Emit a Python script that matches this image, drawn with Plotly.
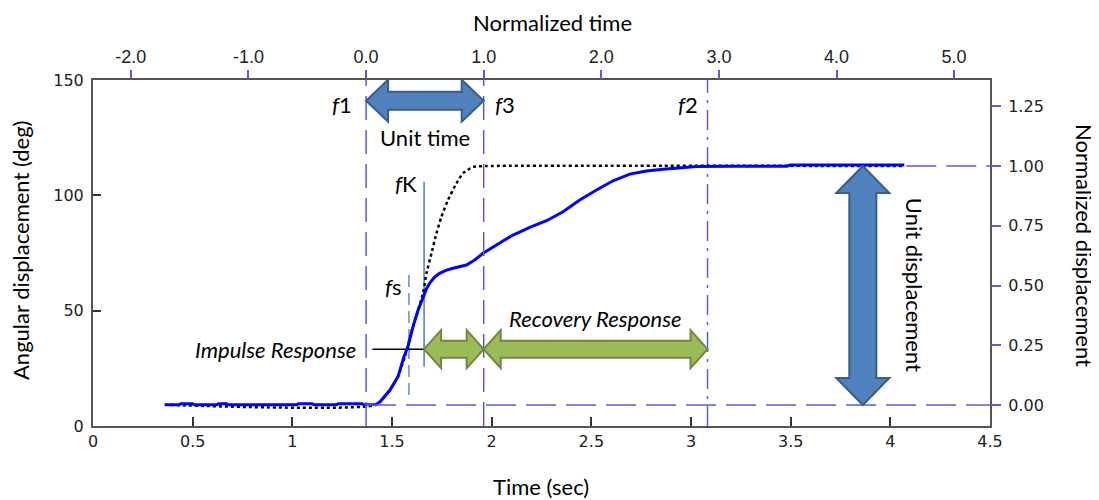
import plotly.graph_objects as go

# ---------------- data ----------------
blue_t = [0.36, 0.43, 0.44, 0.50, 0.51, 0.62, 0.63, 0.67, 0.68, 1.02,
          1.03, 1.10, 1.11, 1.22, 1.23, 1.35, 1.36, 1.42, 1.44, 1.49,
          1.53, 1.56, 1.58, 1.605, 1.631, 1.656, 1.672, 1.689, 1.712, 1.739,
          1.77, 1.806, 1.84, 1.873, 1.915, 1.957, 2.024, 2.107, 2.191, 2.275,
          2.358, 2.442, 2.526, 2.609, 2.693, 2.777, 2.860, 2.944, 3.028, 3.20,
          3.48, 3.50, 4.07]
blue_deg = [9.2, 9.2, 9.6, 9.6, 9.2, 9.2, 9.6, 9.6, 9.2, 9.2,
            9.6, 9.6, 9.2, 9.2, 9.6, 9.6, 9.2, 9.3, 10.5, 15.6,
            21.4, 30.0, 34.4, 43.0, 50.3, 56.1, 59.3, 61.9, 64.4, 66.2,
            67.5, 68.4, 69.0, 69.8, 72.0, 74.9, 78.5, 82.8, 86.1, 89.0,
            92.9, 98.0, 102.3, 106.3, 109.2, 110.5, 111.3, 112.0, 112.5, 112.6,
            112.6, 113.1, 113.1]

fit_t = [0.36, 1.42, 1.488, 1.530, 1.564, 1.605, 1.656, 1.673, 1.698, 1.723,
         1.748, 1.781, 1.823, 1.856, 1.907, 1.974, 4.06]
fit_deg = [9.2, 9.2, 15.6, 21.4, 30.0, 43.0, 57.6, 66.2, 74.9, 83.5,
           90.7, 98.0, 105.2, 109.6, 112.3, 112.7, 112.7]

# event times (sec)
t_f1 = 1.37
t_f3 = 1.96
t_f2 = 3.083
t_fs = 1.585
t_fK = 1.661
t_unitdisp = 3.862
t_imp_line = 1.402
t_hline1 = 4.08

base_deg = 9.1
final_deg = 112.7

fs_span = [13.4, 66.8]
fK_span = [25.7, 105.9]
arrow_y_unit_time = 141.0
arrow_y_green = 33.3

time_ticks = [0, 0.5, 1, 1.5, 2, 2.5, 3, 3.5, 4, 4.5]
time_ticktext = ["0", "0.5", "1", "1.5", "2", "2.5", "3", "3.5", "4", "4.5"]
deg_ticks = [0, 50, 100, 150]
ntime_ticks = [-2, -1, 0, 1, 2, 3, 4, 5]
ntime_ticktext = ["-2.0", "-1.0", "0.0", "1.0", "2.0", "3.0", "4.0", "5.0"]
ndisp_ticks = [0, 0.25, 0.5, 0.75, 1.0, 1.25]
ndisp_ticktext = ["0.00", "0.25", "0.50", "0.75", "1.00", "1.25"]

# ---------------- layout constants ----------------
OFF = 8                      # page body margin
W, H = 1099 - OFF, 500 - OFF
ML = 93 - OFF
MT = 80 - OFF
MR = W - (990 - OFF)
MB = H - (426 - OFF)
PW, PH = W - ML - MR, H - MT - MB
XR = [0, 4.5]
YR = [0, 150]
sx = PW / (XR[1] - XR[0])   # px per sec
sy = PH / (YR[1] - YR[0])   # px per deg

unit_time = t_f3 - t_f1
unit_disp = final_deg - base_deg
x2_range = [(XR[0] - t_f1) / unit_time, (XR[1] - t_f1) / unit_time]
y2_range = [(YR[0] - base_deg) / unit_disp, (YR[1] - base_deg) / unit_disp]


def px2paper(px, py):
    return (px - OFF - ML) / PW, (H - MB - (py - OFF)) / PH


DASHC = "#5b5bdc"
ARROWBLUE, ARROWBLUE_L = "#4F81BD", "#385D8A"
GREEN, GREEN_L = "#9BBB59", "#71893F"
TXTFONT = "Lato, Carlito, Calibri, sans-serif"
FS = 22


def harrow(x0, x1, y, hl_px, hh_px, sh_px):
    hl, hh, sh = hl_px / sx, hh_px / sy, sh_px / sy
    pts = [(x0, y), (x0 + hl, y + hh), (x0 + hl, y + sh), (x1 - hl, y + sh),
           (x1 - hl, y + hh), (x1, y), (x1 - hl, y - hh), (x1 - hl, y - sh),
           (x0 + hl, y - sh), (x0 + hl, y - hh)]
    return "M " + " L ".join(f"{a},{b}" for a, b in pts) + " Z"


def varrow(x, y0, y1, hl_px, hw_px, sw_px):
    hl, hw, sw = hl_px / sy, hw_px / sx, sw_px / sx
    pts = [(x, y0), (x + hw, y0 + hl), (x + sw, y0 + hl), (x + sw, y1 - hl),
           (x + hw, y1 - hl), (x, y1), (x - hw, y1 - hl), (x - sw, y1 - hl),
           (x - sw, y0 + hl), (x - hw, y0 + hl)]
    return "M " + " L ".join(f"{a},{b}" for a, b in pts) + " Z"


fig = go.Figure()

# reference dashed lines
fig.add_trace(go.Scatter(x=[0, 0], y=YR, xaxis="x2", yaxis="y", mode="lines",
                         line=dict(color=DASHC, width=1.5, dash="24px,10px"),
                         hoverinfo="skip", showlegend=False))
fig.add_trace(go.Scatter(x=[1, 1], y=YR, xaxis="x2", yaxis="y", mode="lines",
                         line=dict(color=DASHC, width=1.5, dash="24px,10px"),
                         hoverinfo="skip", showlegend=False))
fig.add_trace(go.Scatter(x=[t_f2, t_f2], y=YR, mode="lines",
                         line=dict(color=DASHC, width=1.5, dash="20px,7px,3px,7px"),
                         hoverinfo="skip", showlegend=False))
fig.add_trace(go.Scatter(x=[t_f1, XR[1]], y=[0, 0], xaxis="x", yaxis="y2", mode="lines",
                         line=dict(color=DASHC, width=1.5, dash="30px,10px"),
                         hoverinfo="skip", showlegend=False))
fig.add_trace(go.Scatter(x=[t_hline1, XR[1]], y=[1, 1], xaxis="x", yaxis="y2", mode="lines",
                         line=dict(color=DASHC, width=1.5, dash="30px,10px"),
                         hoverinfo="skip", showlegend=False))
# fs and fK
fig.add_trace(go.Scatter(x=[t_fs, t_fs], y=fs_span, mode="lines",
                         line=dict(color="#4a7ebb", width=1.3, dash="12px,6px"),
                         hoverinfo="skip", showlegend=False))
fig.add_trace(go.Scatter(x=[t_fK, t_fK], y=fK_span, mode="lines",
                         line=dict(color="#4a7ebb", width=1.5),
                         hoverinfo="skip", showlegend=False))
# impulse response leader line
fig.add_trace(go.Scatter(x=[t_imp_line, t_fK], y=[arrow_y_green, arrow_y_green], mode="lines",
                         line=dict(color="black", width=1.5),
                         hoverinfo="skip", showlegend=False))

# curves
fig.add_trace(go.Scatter(x=fit_t, y=fit_deg, mode="lines",
                         line=dict(color="black", width=2.5, dash="dot", shape="spline", smoothing=0.5),
                         showlegend=False))
fig.add_trace(go.Scatter(x=blue_t, y=blue_deg, mode="lines",
                         line=dict(color="#0000ff", width=3),
                         showlegend=False))

# arrows
shapes = [
    dict(type="path", xref="x", yref="y",
         path=harrow(t_f1, t_f3, arrow_y_unit_time, 22, 21, 9),
         fillcolor=ARROWBLUE, line=dict(color=ARROWBLUE_L, width=2)),
    dict(type="path", xref="x", yref="y",
         path=harrow(t_fK, t_f3, arrow_y_green, 17, 19, 8.5),
         fillcolor=GREEN, line=dict(color=GREEN_L, width=2)),
    dict(type="path", xref="x", yref="y",
         path=harrow(t_f3, t_f2, arrow_y_green, 17, 19, 8.5),
         fillcolor=GREEN, line=dict(color=GREEN_L, width=2)),
    dict(type="path", xref="x", yref="y",
         path=varrow(t_unitdisp, base_deg, final_deg, 27, 26.5, 13.5),
         fillcolor=ARROWBLUE, line=dict(color=ARROWBLUE_L, width=2)),
]

tf = dict(family=TXTFONT, size=FS, color="black")
annotations = [
    dict(x=t_f1, y=139.5, xref="x", yref="y", text="<i>f</i>1", showarrow=False,
         xanchor="right", xshift=-12, font=tf),
    dict(x=t_f3, y=139.5, xref="x", yref="y", text="<i>f</i>3", showarrow=False,
         xanchor="left", xshift=9, font=tf),
    dict(x=t_f2, y=139.5, xref="x", yref="y", text="<i>f</i>2", showarrow=False,
         xanchor="right", xshift=-8, font=tf),
    dict(x=(t_f1 + t_f3) / 2, y=125.0, xref="x", yref="y", text="Unit time",
         showarrow=False, font=tf),
    dict(x=t_fK, y=105.3, xref="x", yref="y", text="<i>f</i>K", showarrow=False,
         xanchor="right", xshift=-5, font=tf),
    dict(x=t_fs, y=60.3, xref="x", yref="y", text="<i>f</i>s", showarrow=False,
         xanchor="right", xshift=-5, font=tf),
    dict(x=t_imp_line, y=arrow_y_green, xref="x", yref="y", text="<i>Impulse Response</i>",
         showarrow=False, xanchor="right", xshift=-14, font=tf),
    dict(x=(t_f3 + t_f2) / 2, y=46.4, xref="x", yref="y", text="<i>Recovery Response</i>",
         showarrow=False, font=tf),
    dict(x=4.125, y=61.1, xref="x", yref="y", text="Unit displacement", textangle=90,
         showarrow=False, font=tf),
]
for txt, (px, py), ang in [("Angular displacement (deg)", (20, 250), -90),
                           ("Normalized displacement", (1085, 245), 90),
                           ("Normalized time", (552, 23), 0),
                           ("Time (sec)", (541, 486), 0)]:
    ax_, ay_ = px2paper(px, py)
    annotations.append(dict(x=ax_, y=ay_, xref="paper", yref="paper", text=txt,
                            xanchor="center", yanchor="middle",
                            textangle=ang, showarrow=False, font=tf))

tickfont = dict(family="DejaVu Sans, Verdana, sans-serif", size=16, color="#222222")

fig.update_layout(
    width=W, height=H,
    margin=dict(l=ML, r=MR, t=MT, b=MB),
    paper_bgcolor="white", plot_bgcolor="white",
    showlegend=False,
    shapes=shapes,
    annotations=annotations,
    xaxis=dict(range=XR, tickvals=time_ticks, ticktext=time_ticktext,
               ticks="inside", ticklen=9, tickwidth=1.5, tickcolor="#333333",
               showline=True, linecolor="#555555", linewidth=2, mirror=True,
               showgrid=False, zeroline=False, tickfont=tickfont),
    xaxis2=dict(range=x2_range, overlaying="x", side="top", anchor="y",
                tickvals=ntime_ticks, ticktext=ntime_ticktext,
                ticks="outside", ticklen=9, tickwidth=1.5, tickcolor=DASHC,
                showline=False, showgrid=False, zeroline=False,
                tickfont=dict(family="Liberation Sans Narrow, Liberation Sans, sans-serif",
                              size=18, color="#222222")),
    yaxis=dict(range=YR, tickvals=deg_ticks,
               ticks="inside", ticklen=8, tickwidth=1.5, tickcolor="#333333",
               showline=True, linecolor="#555555", linewidth=2, mirror=True,
               showgrid=False, zeroline=False, tickfont=tickfont,
               ticklabelstandoff=4),
    yaxis2=dict(range=y2_range, overlaying="y", side="right", anchor="x",
                tickvals=ndisp_ticks, ticktext=ndisp_ticktext,
                ticks="outside", ticklen=10, tickwidth=1.5, tickcolor=DASHC,
                showline=False, showgrid=False, zeroline=False, tickfont=tickfont,
                ticklabelstandoff=4),
)

fig.write_html("out.html")
